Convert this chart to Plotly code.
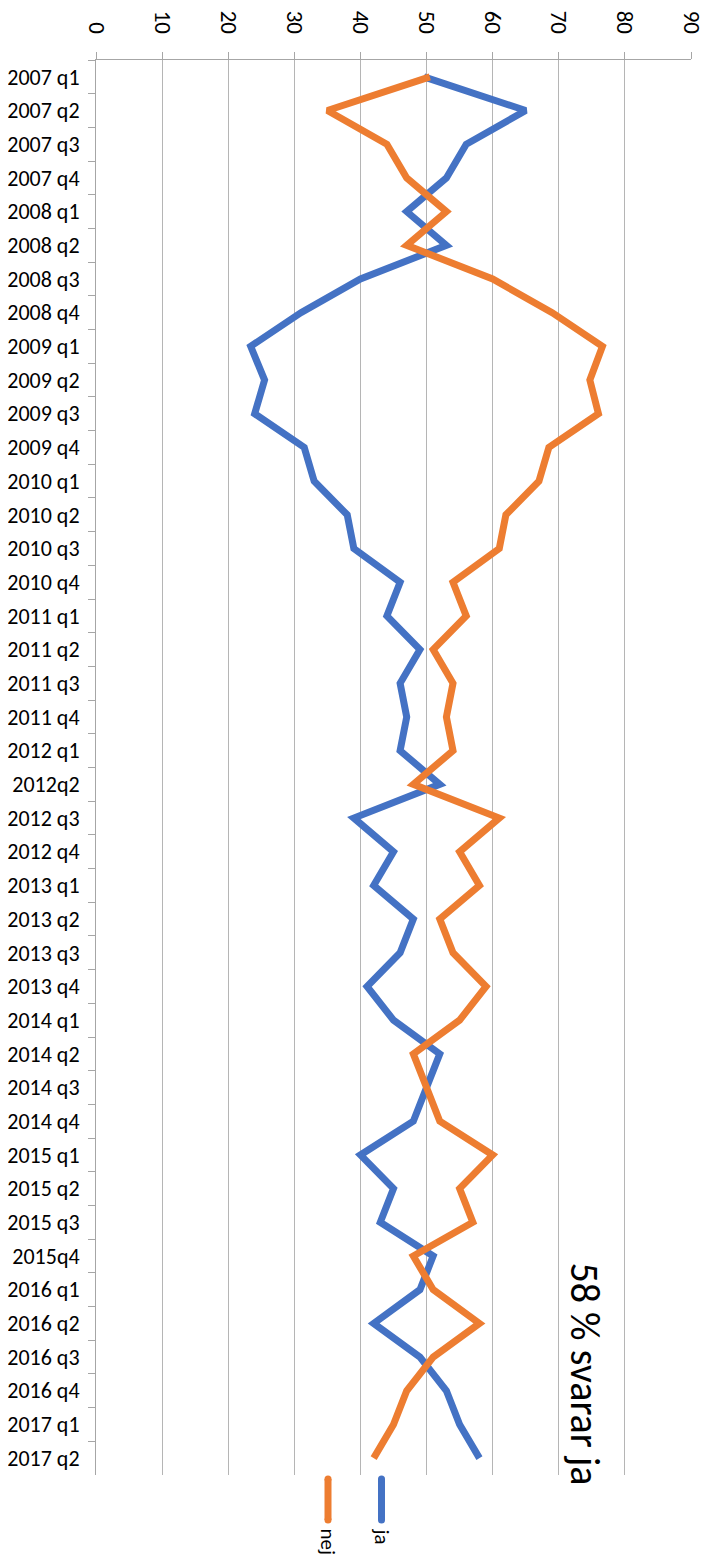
import plotly.graph_objects as go

quarters = ["2007 q1", "2007 q2", "2007 q3", "2007 q4",
            "2008 q1", "2008 q2", "2008 q3", "2008 q4",
            "2009 q1", "2009 q2", "2009 q3", "2009 q4",
            "2010 q1", "2010 q2", "2010 q3", "2010 q4",
            "2011 q1", "2011 q2", "2011 q3", "2011 q4",
            "2012 q1", "2012q2", "2012 q3", "2012 q4",
            "2013 q1", "2013 q2", "2013 q3", "2013 q4",
            "2014 q1", "2014 q2", "2014 q3", "2014 q4",
            "2015 q1", "2015 q2", "2015 q3", "2015q4",
            "2016 q1", "2016 q2", "2016 q3", "2016 q4",
            "2017 q1", "2017 q2"]

ja = [49.6, 65, 56, 53, 47, 53, 40, 31,
      23.4, 25.5, 24, 31.5, 33, 38, 39, 46,
      44, 49, 46, 47, 46, 52, 39, 45,
      42, 48, 46, 41, 45, 52, 50, 48,
      40, 45, 43, 51, 49, 42, 49, 53,
      55, 58]

nej = [50.5, 35, 44, 47, 53, 47, 60, 69,
       76.6, 74.7, 76, 68.5, 67, 62, 61, 54,
       56, 51, 54, 53, 54, 48, 61, 55,
       58, 52, 54, 59, 55, 48, 50, 52,
       60, 55, 57, 48, 51, 58, 51, 47,
       45, 42]

value_ticks = [0, 10, 20, 30, 40, 50, 60, 70, 80, 90]

title_text = "58 % svarar ja"
series_names = ["ja", "nej"]
BLUE = "#4472C4"
ORANGE = "#ED7D31"
FONT = "Carlito, Calibri, 'Open Sans', sans-serif"

fig = go.Figure()
fig.add_trace(go.Scatter(x=ja, y=quarters, mode="lines", name=series_names[0],
                         line=dict(color=BLUE, width=7), showlegend=False))
fig.add_trace(go.Scatter(x=nej, y=quarters, mode="lines", name=series_names[1],
                         line=dict(color=ORANGE, width=7), showlegend=False))

# page body has an 8px margin, so the figure is 8px smaller than the window
OFF = 8
W, H = 711 - OFF, 1560 - OFF
L, R, T, B = 96 - OFF, 20, 60 - OFF, 85
pw, ph = W - L - R, H - T - B

def px(xscreen):
    return (xscreen - OFF - L) / pw

def py(yscreen):
    return (H - B - (yscreen - OFF)) / ph

fig.update_layout(
    width=W, height=H,
    margin=dict(l=L, r=R, t=T, b=B, pad=0),
    paper_bgcolor="white", plot_bgcolor="white",
    font=dict(family=FONT, size=20, color="#000000"),
    xaxis=dict(side="top", range=[0, 90], tickvals=value_ticks,
               ticktext=[str(v) for v in value_ticks], tickangle=90,
               showgrid=True, gridcolor="#b5b5b5", gridwidth=1,
               showline=True, linecolor="#a6a6a6", linewidth=1,
               ticks="outside", ticklen=7, tickcolor="#a6a6a6",
               ticklabelstandoff=10, automargin=False,
               zeroline=False, tickfont=dict(size=23, family=FONT)),
    yaxis=dict(type="category", categoryorder="array", categoryarray=quarters,
               range=[len(quarters) - 0.5, -0.5], showgrid=False,
               showline=True, linecolor="#a6a6a6", linewidth=1,
               ticks="outside", ticklen=7, tickcolor="#a6a6a6",
               tickson="boundaries", zeroline=False,
               ticklabelstandoff=11, automargin=False,
               tickfont=dict(size=22, family=FONT)),
)

# rotated title
fig.add_annotation(text=title_text, xref="paper", yref="paper",
                   x=px(584), y=py(1260), xanchor="center", yanchor="top",
                   textangle=90, showarrow=False,
                   font=dict(size=40, family=FONT, color="#000000"))

# manual rotated legend
legend_items = [(series_names[1], ORANGE, 328), (series_names[0], BLUE, 381.5)]
for name, color, xp in legend_items:
    fig.add_shape(type="line", xref="paper", yref="paper",
                  x0=px(xp), x1=px(xp), y0=py(1479), y1=py(1520),
                  line=dict(color=color, width=7))
    for yc in (1479, 1520):
        fig.add_shape(type="circle", xref="paper", yref="paper",
                      x0=px(xp - 3.5), x1=px(xp + 3.5),
                      y0=py(yc + 3.5), y1=py(yc - 3.5),
                      fillcolor=color, line=dict(width=0))
    fig.add_annotation(text=name, xref="paper", yref="paper",
                       x=px(xp), y=py(1526), xanchor="center", yanchor="top",
                       textangle=90, showarrow=False,
                       font=dict(size=21, family=FONT, color="#000000"))

fig.write_html("out.html")
